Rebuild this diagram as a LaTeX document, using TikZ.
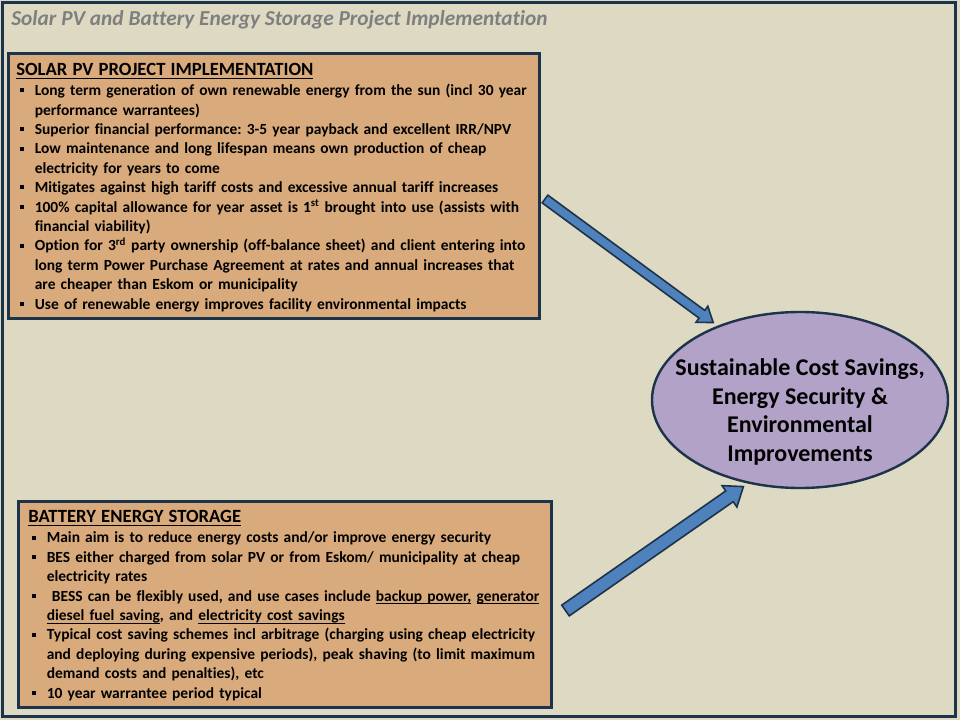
\documentclass[tikz,border=0pt]{standalone}
\usepackage{fontspec}
\setmainfont{Carlito}[Ligatures=NoCommon]
\usetikzlibrary{shapes.geometric,calc}

\definecolor{slide bg}{HTML}{DDD9C3}
\definecolor{frame edge}{HTML}{1D3349}
\definecolor{panel fill}{HTML}{D9AA7B}
\definecolor{goal fill}{HTML}{B3A2C7}
\definecolor{arrow fill}{HTML}{4F81BD}
\definecolor{title grey}{HTML}{7F7F7F}

\newcommand\uln[1]{\setbox0\hbox{#1}\rlap{\rule[-0.19em]{\wd0}{0.06em}}\box0\relax}
\newcommand\nohyph{\hyphenpenalty=10000 \exhyphenpenalty=10000 \frenchspacing}
\newcommand\point{\par\hangindent=13.9pt\hangafter=1\noindent\makebox[13.9pt][l]{\hspace{2.6pt}\rule[2.5pt]{3pt}{3pt}}}
\newcommand\fatarrow[5]{%
  \coordinate (#1 base) at ($(#2)!#5!(#1)$);
  \filldraw[block arrow] ($(#1)!#3!90:(#2)$) -- ($(#1 base)!#3!90:(#2)$)
    -- ($(#1 base)!#4!90:(#2)$) -- (#2) -- ($(#1 base)!#4!-90:(#2)$)
    -- ($(#1 base)!#3!-90:(#2)$) -- ($(#1)!#3!-90:(#2)$) -- cycle;}

\tikzset{panel/.style={draw=frame edge, fill=panel fill, line width=2.25pt, outer sep=0pt, inner sep=0pt, anchor=north west},
    panel text/.style={anchor=north west, inner sep=0pt, text width=430pt, align=left,
        font=\fontsize{11.6}{14.55}\selectfont\bfseries},
    goal/.style={ellipse, draw=frame edge, fill=goal fill, line width=1.8pt, inner sep=0pt,
        minimum width=222pt, minimum height=132pt},
    block arrow/.style={fill=arrow fill, draw=frame edge, line width=1.2pt, line join=miter}}

\begin{document}
\begin{tikzpicture}[x=0.75pt, y=-0.75pt]
\useasboundingbox (0,0) rectangle (960,720);
\fill[slide bg] (0,0) rectangle (960,720);
\draw[frame edge, line width=2.25pt] (2.5,3) rectangle (955.5,716.5);

\node[anchor=base west, inner sep=0pt, text=title grey, font=\fontsize{16}{19}\selectfont\bfseries\itshape] (title) at (11,26)
    {Solar PV and Battery Energy Storage Project Implementation};

\node[panel, minimum width=398.6pt, minimum height=198.4pt] (pvbox) at (8.5,53.5) {};
\node[panel text] (pvtext) at ($(pvbox.north west)+(7.5,9.5)$) {\nohyph
    {\fontsize{14}{17}\selectfont\uln{SOLAR PV PROJECT IMPLEMENTATION}\par}\vspace{0.6pt}
    \point Long term generation of own renewable energy from the sun (incl 30 year\newline performance warrantees)
    \point Superior financial performance: 3-5 year payback and excellent IRR/NPV
    \point Low maintenance and long lifespan means own production of cheap\newline electricity for years to come
    \point Mitigates against high tariff costs and excessive annual tariff increases
    \point 100\% capital allowance for year asset is 1\textsuperscript{st} brought into use (assists with\newline financial viability)
    \point Option for 3\textsuperscript{rd} party ownership (off-balance sheet) and client entering into\newline long term Power Purchase Agreement at rates and annual increases that\newline are cheaper than Eskom or municipality
    \point Use of renewable energy improves facility environmental impacts\par};

\node[panel, minimum width=399.4pt, minimum height=154.5pt] (besbox) at (18.5,501.5) {};
\node[panel text] (bestext) at ($(besbox.north west)+(9.5,8.5)$) {\nohyph
    {\fontsize{14}{17}\selectfont\uln{BATTERY ENERGY STORAGE}\par}\vspace{0.8pt}
    \point Main aim is to reduce energy costs and/or improve energy security
    \point BES either charged from solar PV or from Eskom/ municipality at cheap\newline electricity rates
    \point \ BESS can be flexibly used, and use cases include \uln{backup power,} \uln{generator}\newline \uln{diesel fuel saving}, and \uln{electricity cost savings}
    \point Typical cost saving schemes incl arbitrage (charging using cheap electricity\newline and deploying during expensive periods), peak shaving (to limit maximum\newline demand costs and penalties), etc
    \point 10 year warrantee period typical\par};

\node[goal] (goal) at (800,400) {};
\node[align=center, inner sep=0pt, font=\fontsize{18}{21.4}\selectfont\bfseries] (goaltext) at ($(goal.center)+(0,12)$)
    {Sustainable Cost Savings,\\Energy Security \&\\Environmental\\Improvements};

\coordinate (pvtail) at (545,199);
\coordinate (pvtip) at ($(goal.138)!4pt!(pvtail)$);
\fatarrow{pvtail}{pvtip}{3.6pt}{7.5pt}{10.5pt}
\coordinate (bestail) at (565.5,610.5);
\coordinate (bestip) at ($(goal.238)!4pt!(bestail)$);
\fatarrow{bestail}{bestip}{4.9pt}{9.75pt}{12.75pt}
\end{tikzpicture}
\end{document}
